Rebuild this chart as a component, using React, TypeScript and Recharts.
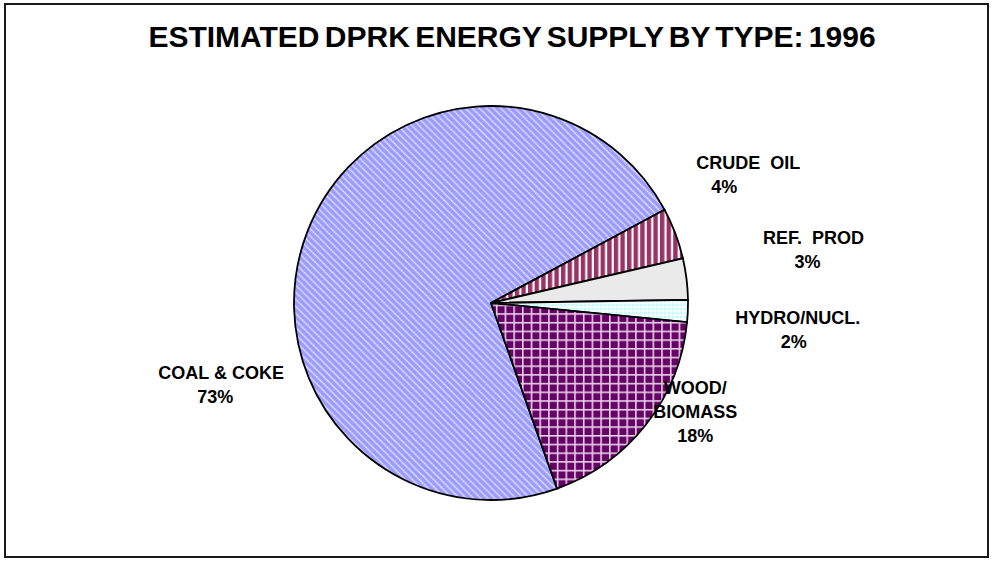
import React from 'react';
import { PieChart, Pie, Cell } from 'recharts';

// Energy supply shares, 1996 (percent of total)
const CATEGORIES = ['COAL & COKE', 'CRUDE  OIL', 'REF.  PROD', 'HYDRO/NUCL.', 'WOOD/\nBIOMASS'];
const SHARES = [72.6, 4.2, 3.4, 1.8, 18.0];

const FILLS = ['url(#pCoal)', 'url(#pCrude)', '#EAEAEA', 'url(#pHydro)', 'url(#pWood)'];

// label block offset (x centre, first line middle) from the slice's outer mid point
const LABEL_OFFSETS: [number, number][] = [
  [-86, 141],
  [73, -70],
  [127, -41],
  [110, 7],
  [49, -36],
];
// the crude oil percentage sits to the left in the original
const PCT_SHIFT = [-6, -24, -6, -4, 0];

const RADIAN = Math.PI / 180;
const FONT = '"Liberation Sans", Arial, sans-serif';

const data = CATEGORIES.map((name, i) => ({ name, value: SHARES[i] }));

function renderLabel(props: any) {
  const { cx, cy, midAngle, outerRadius, index, value } = props;
  const px = cx + outerRadius * Math.cos(-midAngle * RADIAN);
  const py = cy + outerRadius * Math.sin(-midAngle * RADIAN);
  const [dx, dy] = LABEL_OFFSETS[index];
  const x = px + dx;
  const names = CATEGORIES[index].split('\n');
  return (
    <text
      x={x}
      y={py + dy}
      textAnchor="middle"
      dominantBaseline="central"
      fontFamily={FONT}
      fontWeight="bold"
      fontSize={18}
      fill="#000"
      style={{ whiteSpace: 'pre' }}
    >
      {names.map((line, i) => (
        <tspan key={i} x={x} dy={i === 0 ? 0 : 24}>
          {line}
        </tspan>
      ))}
      <tspan x={x + PCT_SHIFT[index]} dy={24}>
        {`${Math.round(value)}%`}
      </tspan>
    </text>
  );
}

function Patterns() {
  return (
    <svg width={0} height={0} style={{ position: 'absolute' }}>
      <defs>
        <pattern id="pCoal" width={5} height={5} patternUnits="userSpaceOnUse" patternTransform="rotate(-45)">
          <rect width={5} height={5} fill="#9999FF" />
          <line x1={2.5} y1={0} x2={2.5} y2={5} stroke="#C4C4FF" strokeWidth={1.6} />
          <line x1={2.5} y1={0} x2={2.5} y2={5} stroke="#F4F4FF" strokeWidth={1.2} strokeDasharray="1.2 1.3" />
        </pattern>
        <pattern id="pCrude" width={6.6} height={6.6} patternUnits="userSpaceOnUse">
          <rect width={6.6} height={6.6} fill="#FFFFFF" />
          <rect x={0} width={4.4} height={6.6} fill="#993366" />
        </pattern>
        <pattern id="pHydro" width={4} height={4} patternUnits="userSpaceOnUse">
          <rect width={4} height={4} fill="#E4FFFF" />
          <rect x={0} y={0} width={2} height={2} fill="#C8FAFA" />
          <rect x={2} y={2} width={2} height={2} fill="#FFFFFF" />
        </pattern>
        <pattern id="pWood" width={8.7} height={8.7} patternUnits="userSpaceOnUse">
          <rect width={8.7} height={8.7} fill="#660066" />
          <rect x={0} y={0} width={8.7} height={1.6} fill="#E6D2E6" />
          <rect x={0} y={0} width={1.6} height={8.7} fill="#E6D2E6" />
        </pattern>
      </defs>
    </svg>
  );
}

export default function App() {
  return (
    <div style={{ position: 'absolute', left: 0, top: 0, width: 992, height: 561, background: '#fff' }}>
      <Patterns />
      <div
        style={{
          position: 'absolute',
          left: 4,
          top: 3,
          width: 985,
          height: 555,
          border: '2px solid #1a1a1a',
          boxSizing: 'border-box',
        }}
      />
      <div
        style={{
          position: 'absolute',
          left: 0,
          top: 20,
          width: 1024,
          textAlign: 'center',
          fontFamily: FONT,
          fontWeight: 'bold',
          fontSize: 30,
          wordSpacing: -3,
          color: '#000',
        }}
      >
        ESTIMATED DPRK ENERGY SUPPLY BY TYPE: 1996
      </div>
      <div style={{ position: 'absolute', left: 0, top: 0 }}>
        <PieChart width={992} height={561} margin={{ top: 0, right: 0, bottom: 0, left: 0 }}>
          <Pie
            data={data}
            dataKey="value"
            nameKey="name"
            cx={491}
            cy={303}
            outerRadius={197}
            startAngle={-70.4}
            endAngle={-430.4}
            stroke="#000"
            strokeWidth={1.8}
            label={renderLabel}
            labelLine={false}
            isAnimationActive={false}
          >
            {data.map((d, i) => (
              <Cell key={d.name} fill={FILLS[i]} />
            ))}
          </Pie>
        </PieChart>
      </div>
    </div>
  );
}
